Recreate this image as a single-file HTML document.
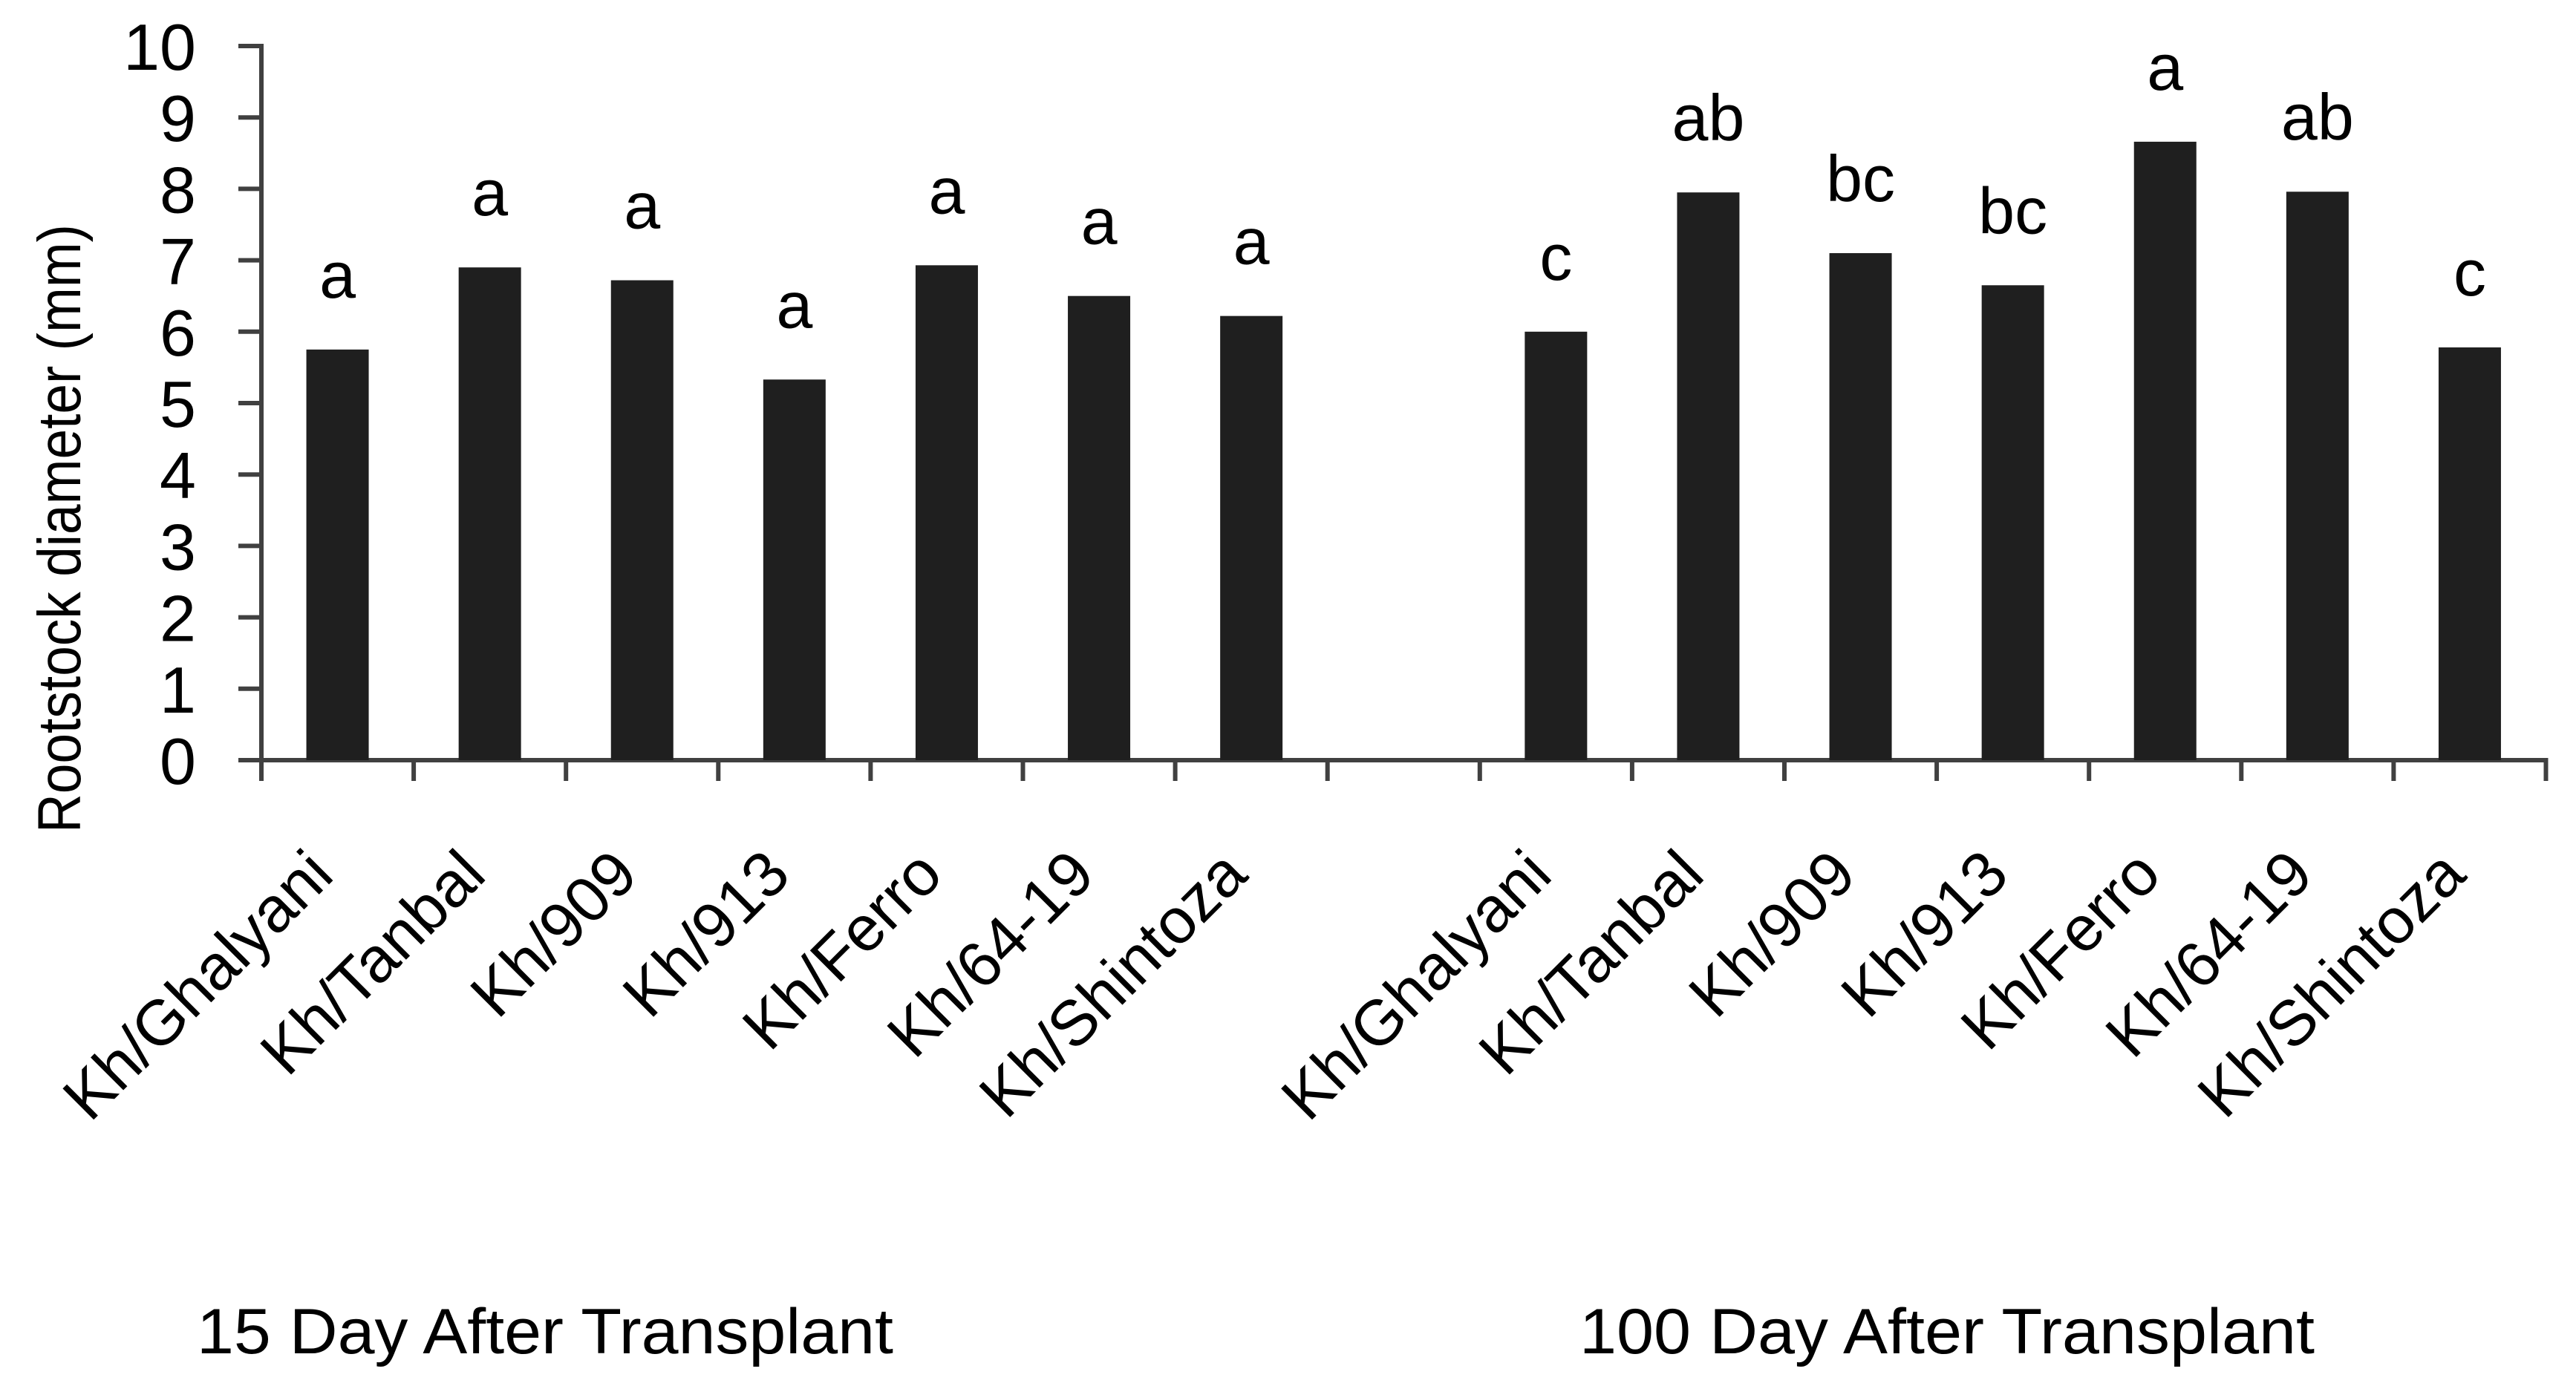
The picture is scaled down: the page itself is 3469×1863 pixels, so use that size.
<!DOCTYPE html>
<html><head><meta charset="utf-8"><style>
html,body{margin:0;padding:0;background:#fff;}
svg{display:block;}
text{font-family:"Liberation Sans",sans-serif;fill:#000;}
</style></head><body>
<svg id="chart" width="3469" height="1863" viewBox="0 0 3469 1863" xmlns="http://www.w3.org/2000/svg">
<g id="marks"></g>
<text x="0" y="0" font-size="82" text-anchor="middle" textLength="820" lengthAdjust="spacingAndGlyphs" transform="translate(108,712) rotate(-90)">Rootstock diameter (mm)</text>
<text x="265" y="1823" font-size="86" textLength="938" lengthAdjust="spacingAndGlyphs">15 Day After Transplant</text>
<text x="2127" y="1823" font-size="86" textLength="990" lengthAdjust="spacingAndGlyphs">100 Day After Transplant</text>
</svg>
<script>
const categories = ["Kh/Ghalyani","Kh/Tanbal","Kh/909","Kh/913","Kh/Ferro","Kh/64-19","Kh/Shintoza"];
const day15Values = [5.75, 6.9, 6.72, 5.33, 6.93, 6.5, 6.22];
const day100Values = [6.0, 7.95, 7.1, 6.65, 8.66, 7.96, 5.78];
const day15Letters = ["a","a","a","a","a","a","a"];
const day100Letters = ["c","ab","bc","bc","a","ab","c"];
const yTicks = [0,1,2,3,4,5,6,7,8,9,10];

const NS = "http://www.w3.org/2000/svg";
const g = document.getElementById("marks");
const X0 = 352, SLOT = 205.1, NSLOTS = 15, Y0 = 1024, Y10 = 62;
function y(v){ return Y0 - (v/10)*(Y0-Y10); }
function slotCenter(i){ return X0 + SLOT*(i+0.5); }
function mk(tag, attrs){ const e=document.createElementNS(NS,tag); for(const k in attrs) e.setAttribute(k,attrs[k]); g.appendChild(e); return e; }

let ax = mk("line",{x1:X0,y1:Y10-3,x2:X0,y2:Y0+28,stroke:"#404040","stroke-width":6});


yTicks.forEach(t=>{
  const l = mk("line",{x1:X0-31,y1:y(t),x2:X0,y2:y(t),stroke:"#404040","stroke-width":6});
  
  
  const tx = mk("text",{x:264,y:y(t)+32,"font-size":88,"text-anchor":"end"});
  tx.textContent = t;
  
  
});
let xa = mk("line",{x1:X0-31,y1:Y0,x2:X0+SLOT*NSLOTS+3,y2:Y0,stroke:"#404040","stroke-width":6});


for(let i=0;i<=NSLOTS;i++){
  const xx = X0+SLOT*i;
  const l = mk("line",{x1:xx,y1:Y0,x2:xx,y2:Y0+28,stroke:"#404040","stroke-width":6});
  
  
}
function drawGroup(vals, letters, offset, key){
  vals.forEach((v,i)=>{
    const cx = slotCenter(i+offset);
    const r = mk("rect",{x:cx-42,y:y(v),width:84,height:Y0-y(v),fill:"#1f1f1f"});
    
    
    const lt = mk("text",{x:cx,y:y(v)-70,"font-size":88,"text-anchor":"middle"});
    lt.textContent = letters[i];
    
    
    const cl = mk("text",{x:0,y:0,"font-size":86,"text-anchor":"end",transform:"translate("+(cx-2)+",1182) rotate(-45)"});
    cl.textContent = categories[i];
    
    
  });
}
drawGroup(day15Values, day15Letters, 0, "15d");
drawGroup(day100Values, day100Letters, 8, "100d");
</script>
</body></html>
